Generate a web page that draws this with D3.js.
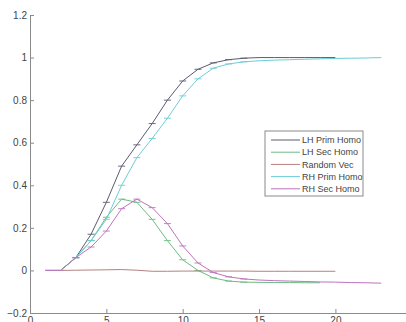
<!DOCTYPE html>
<html>
<head>
<meta charset="utf-8">
<script src="https://cdn.jsdelivr.net/npm/d3@7"></script>
<style>
  body { margin: 0; background: #fff; }
  svg { display: block; font-family: "Liberation Sans", Arial, sans-serif; }
  .axis path, .axis line { stroke: #8a8a8a; }
  .axis text { fill: #444; font-size: 10px; }
</style>
</head>
<body>
<div id="chart"></div>
<script>
// datos
const xLeft = [1, 2, 3, 4, 5, 6, 7, 8, 9, 10, 11, 12, 13, 14, 15, 16, 17, 18, 19, 20];
const xRight = [1, 2, 3, 4, 5, 6, 7, 8, 9, 10, 11, 12, 13, 14, 15, 16, 17, 18, 19, 20, 21, 22, 23];

const lhPrim = [0, 0, 0.06, 0.17, 0.32, 0.49, 0.59, 0.69, 0.80, 0.89, 0.945, 0.975, 0.99, 0.997, 1, 1, 1, 1, 1, 1];
const lhSec = [0, 0, 0.06, 0.14, 0.25, 0.335, 0.32, 0.24, 0.14, 0.05, 0, -0.035, -0.05, -0.055, -0.056, -0.057, -0.057, -0.058, -0.058];
const randomVec = [0, 0, 0.001, 0.002, 0.003, 0.004, 0.001, -0.004, -0.004, -0.003, -0.003, -0.003, -0.003, -0.003, -0.004, -0.004, -0.004, -0.004, -0.004, -0.004];
const rhPrim = [0, 0, 0.06, 0.14, 0.24, 0.40, 0.53, 0.62, 0.715, 0.82, 0.90, 0.95, 0.97, 0.98, 0.985, 0.988, 0.99, 0.992, 0.994, 0.996, 0.997, 0.998, 1.0];
const rhSec = [0, 0, 0.06, 0.11, 0.185, 0.29, 0.335, 0.295, 0.22, 0.115, 0.035, -0.01, -0.03, -0.04, -0.045, -0.048, -0.05, -0.052, -0.054, -0.055, -0.057, -0.058, -0.06];

const xTicks = [0, 5, 10, 15, 20];
const yTicks = [-0.2, 0, 0.2, 0.4, 0.6, 0.8, 1, 1.2];

const series = [
  { name: "LH Prim Homo", x: xLeft, y: lhPrim, color: "#5a5b70", marks: true },
  { name: "LH Sec Homo", x: xLeft, y: lhSec, color: "#6cbc84", marks: true },
  { name: "Random Vec", x: xLeft, y: randomVec, color: "#b48080", marks: false },
  { name: "RH Prim Homo", x: xRight, y: rhPrim, color: "#6ccdd6", marks: true },
  { name: "RH Sec Homo", x: xRight, y: rhSec, color: "#bc74bc", marks: true }
];

const width = 406, height = 322;

const svg = d3.select("#chart").append("svg")
  .attr("width", width)
  .attr("height", height);

const xScale = d3.scaleLinear().domain([0, 25]).range([30, 411.75]);
const yScale = d3.scaleLinear().domain([-0.2, 1.2]).range([313, 15]);

// ejes estilo matlab, marcas hacia dentro
svg.append("g")
  .attr("class", "x axis")
  .attr("transform", `translate(0, ${yScale(-0.2)})`)
  .call(d3.axisBottom(xScale).tickValues(xTicks).tickSizeInner(-4).tickSizeOuter(0).tickPadding(3));

svg.append("g")
  .attr("class", "y axis")
  .attr("transform", `translate(${xScale(0)}, 0)`)
  .call(d3.axisLeft(yScale).tickValues(yTicks).tickSizeInner(-4).tickSizeOuter(0).tickPadding(3)
    .tickFormat(d => d3.format("")(Math.round(d * 10) / 10)));

svg.selectAll(".x.axis text").attr("dy", "0.8em");

const line = d3.line()
  .x(d => xScale(d[0]))
  .y(d => yScale(d[1]));

const lines = svg.append("g").attr("class", "lines");

series.forEach(s => {
  const pts = s.y.map((v, i) => [s.x[i], v]);
  lines.append("path")
    .attr("d", line(pts))
    .attr("fill", "none")
    .attr("stroke", s.color)
    .attr("stroke-width", 1);
  if (s.marks) {
    lines.append("g")
      .selectAll("line")
      .data(pts.slice(2, 14))
      .enter()
      .append("line")
      .attr("x1", d => xScale(d[0]) - 3.5)
      .attr("x2", d => xScale(d[0]) + 3.5)
      .attr("y1", d => yScale(d[1]))
      .attr("y2", d => yScale(d[1]))
      .attr("stroke", s.color)
      .attr("stroke-width", 0.9);
  }
});

// leyenda
const legend = svg.append("g").attr("transform", "translate(265, 131)");
legend.append("rect")
  .attr("width", 98)
  .attr("height", 65)
  .attr("fill", "#fff")
  .attr("stroke", "#8a8a8a");

series.forEach((s, i) => {
  const y = 9 + i * 12.2;
  legend.append("line")
    .attr("x1", 6).attr("x2", 35)
    .attr("y1", y).attr("y2", y)
    .attr("stroke", s.color)
    .attr("stroke-width", 1);
  legend.append("text")
    .attr("x", 37)
    .attr("y", y)
    .attr("dy", "0.35em")
    .attr("fill", "#444")
    .attr("font-size", "9px")
    .text(s.name);
});
</script>
</body>
</html>
